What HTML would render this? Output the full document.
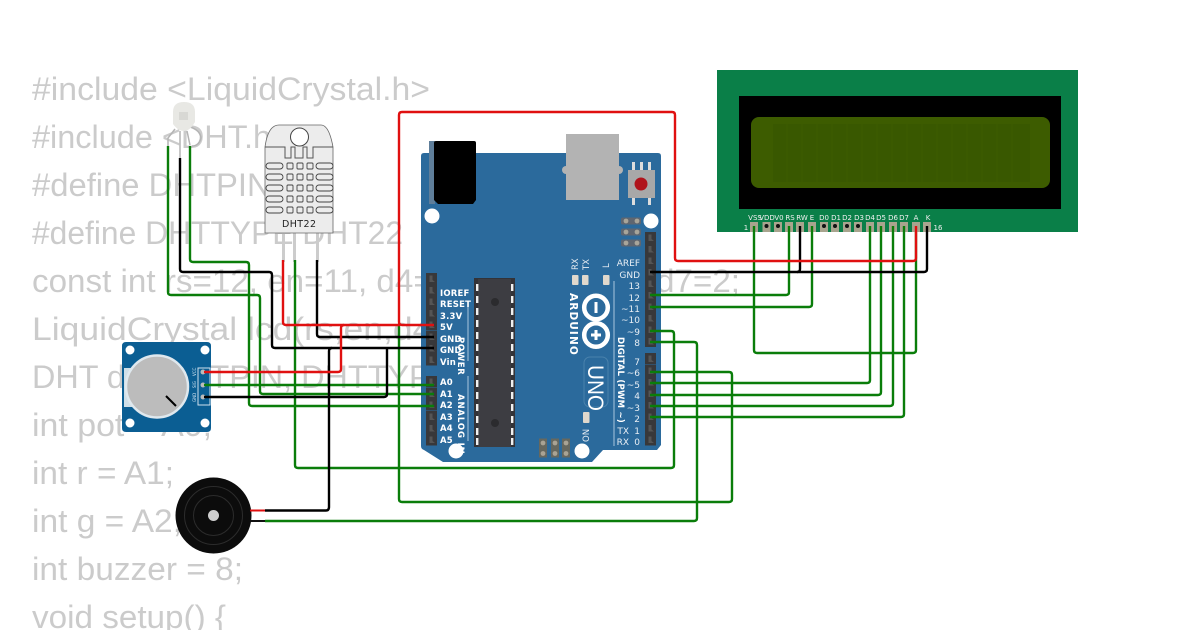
<!DOCTYPE html>
<html><head><meta charset="utf-8"><style>
html,body{margin:0;padding:0;background:#fff;width:1200px;height:630px;overflow:hidden}
svg{display:block}
.c{font:32px "Liberation Sans",sans-serif;fill:#cbcbcb}
.l{font:bold 8.500px "DejaVu Sans",sans-serif;fill:#fff;letter-spacing:.2px}
.r{font:9px "DejaVu Sans",sans-serif;fill:#e8eef4;text-anchor:end}
.p{font:7px "DejaVu Sans",sans-serif;fill:#f0f0f0;text-anchor:middle}
.w{fill:none;stroke-width:2.4;stroke-linejoin:round}
</style></head><body>
<svg width="1200" height="630" viewBox="0 0 1200 630" xmlns="http://www.w3.org/2000/svg">
<defs>
<g id="pin"><rect width="11" height="11.5" fill="#38383a"/><path d="M3.500 2.500V9H9L6.500 7V2.500z" fill="#555"/></g>
</defs>
<!-- code -->
<g class="c">
<text x="32" y="100" textLength="398" lengthAdjust="spacingAndGlyphs">#include &lt;LiquidCrystal.h&gt;</text>
<text x="32" y="148" textLength="258" lengthAdjust="spacingAndGlyphs">#include &lt;DHT.h&gt;</text>
<text x="32" y="196" textLength="266" lengthAdjust="spacingAndGlyphs">#define DHTPIN 2</text>
<text x="32" y="244" textLength="371" lengthAdjust="spacingAndGlyphs">#define DHTTYPE DHT22</text>
<text x="32" y="292" textLength="708" lengthAdjust="spacingAndGlyphs">const int rs=12, en=11, d4=5, d5=4, d6=3, d7=2;</text>
<text x="32" y="340" textLength="570" lengthAdjust="spacingAndGlyphs">LiquidCrystal lcd(rs,en,d4,d5,d6,d7);</text>
<text x="32" y="388" textLength="440" lengthAdjust="spacingAndGlyphs">DHT dht(DHTPIN, DHTTYPE);</text>
<text x="32" y="436" textLength="180" lengthAdjust="spacingAndGlyphs">int pot = A0;</text>
<text x="32" y="484" textLength="142" lengthAdjust="spacingAndGlyphs">int r = A1;</text>
<text x="32" y="532" textLength="150" lengthAdjust="spacingAndGlyphs">int g = A2;</text>
<text x="32" y="580" textLength="211" lengthAdjust="spacingAndGlyphs">int buzzer = 8;</text>
<text x="32" y="628" textLength="194" lengthAdjust="spacingAndGlyphs">void setup() {</text>
</g>
<!-- LCD -->
<rect x="717" y="70" width="361" height="162" fill="#0a7f48"/>
<rect x="739" y="96" width="322" height="113" fill="#000"/>
<rect x="751" y="117" width="299" height="71" rx="8" fill="#3d5c00"/>
<rect x="773" y="124" width="257" height="58" fill="#395800"/>
<path d="M787 124v58M802 124v58M817 124v58M832 124v58M847 124v58M862 124v58M877 124v58M892 124v58M907 124v58M922 124v58M937 124v58M952 124v58M967 124v58M982 124v58M997 124v58M1012 124v58" stroke="#3d5c00" stroke-width="1" fill="none"/>
<g fill="#a8a48e">
<rect x="750" y="222" width="8" height="10"/><rect x="762.500" y="222" width="8" height="10"/><rect x="774" y="222" width="8" height="10"/><rect x="785" y="222" width="8" height="10"/><rect x="796" y="222" width="8" height="10"/><rect x="808" y="222" width="8" height="10"/><rect x="820" y="222" width="8" height="10"/><rect x="831" y="222" width="8" height="10"/><rect x="843" y="222" width="8" height="10"/><rect x="854" y="222" width="8" height="10"/><rect x="866" y="222" width="8" height="10"/><rect x="877" y="222" width="8" height="10"/><rect x="889" y="222" width="8" height="10"/><rect x="900" y="222" width="8" height="10"/><rect x="912" y="222" width="8" height="10"/><rect x="923" y="222" width="8" height="10"/>
</g>
<g fill="#111">
<circle cx="766.500" cy="226" r="2"/><circle cx="778" cy="226" r="2"/><circle cx="824" cy="226" r="2"/><circle cx="835" cy="226" r="2"/><circle cx="847" cy="226" r="2"/><circle cx="858" cy="226" r="2"/>
</g>
<g class="p">
<text x="755" y="220">VSS</text><text x="767" y="220">VDD</text><text x="779" y="220">V0</text><text x="790" y="220">RS</text><text x="802" y="220">RW</text><text x="812" y="220">E</text><text x="824" y="220">D0</text><text x="836" y="220">D1</text><text x="847" y="220">D2</text><text x="859" y="220">D3</text><text x="870" y="220">D4</text><text x="881" y="220">D5</text><text x="893" y="220">D6</text><text x="904" y="220">D7</text><text x="916" y="220">A</text><text x="928" y="220">K</text>
<text x="746" y="230">1</text><text x="938" y="230">16</text>
</g>
<!-- Arduino -->
<path d="M424 153H658Q661 153 661 156V445L657 450H603L592 462H443L424 450Q421 449 421 446V156Q421 153 424 153Z" fill="#2b6a9c"/>
<rect x="429" y="141" width="6" height="63" fill="#5f7e9a"/>
<path d="M436 141H474Q476 141 476 143V200L473 204H438L434 200V143Q434 141 436 141Z" fill="#000"/>
<rect x="566" y="134" width="53" height="66" fill="#b3b3b3"/>
<circle cx="566" cy="170" r="4" fill="#b3b3b3"/><circle cx="619" cy="170" r="4" fill="#b3b3b3"/>
<rect x="632" y="162" width="3" height="8" fill="#ddd"/><rect x="640" y="162" width="3" height="8" fill="#ddd"/><rect x="648" y="162" width="3" height="8" fill="#ddd"/>
<rect x="632" y="198" width="3" height="7" fill="#ddd"/><rect x="648" y="198" width="3" height="7" fill="#ddd"/>
<rect x="628" y="170" width="27" height="28" fill="#a8a8a8"/>
<circle cx="641" cy="184" r="6.500" fill="#b0141c"/>
<g fill="#fff"><circle cx="432" cy="216" r="7.500"/><circle cx="651" cy="221" r="7.500"/><circle cx="456" cy="451" r="7.500"/><circle cx="582" cy="451" r="7.500"/></g>
<g fill="#5f6670"><rect x="621" y="217.500" width="20" height="7" rx="2"/><rect x="621" y="228.500" width="20" height="7" rx="2"/><rect x="621" y="239.500" width="20" height="7" rx="2"/></g>
<g fill="#a8a59a"><circle cx="626" cy="221" r="2.400"/><circle cx="637" cy="221" r="2.400"/><circle cx="626" cy="232" r="2.400"/><circle cx="637" cy="232" r="2.400"/><circle cx="626" cy="243" r="2.400"/><circle cx="637" cy="243" r="2.400"/></g>
<g fill="#66685f"><rect x="539" y="438.500" width="8" height="19"/><rect x="551" y="438.500" width="8" height="19"/><rect x="562" y="438.500" width="8" height="19"/></g>
<g fill="#a9a394"><circle cx="543" cy="443" r="2.400"/><circle cx="555" cy="443" r="2.400"/><circle cx="566" cy="443" r="2.400"/><circle cx="543" cy="453.500" r="2.400"/><circle cx="555" cy="453.500" r="2.400"/><circle cx="566" cy="453.500" r="2.400"/></g>
<!-- chip -->
<rect x="474" y="278" width="41" height="169" fill="#333338"/>
<rect x="478" y="279" width="33" height="168" fill="#3d3d42"/>
<circle cx="495" cy="302" r="4" fill="#2b2b2e"/><circle cx="495" cy="423" r="4" fill="#2b2b2e"/>
<g fill="#f0f0f0">
<rect x="476" y="284" width="2.400" height="7"/><rect x="476" y="296" width="2.400" height="7"/><rect x="476" y="308" width="2.400" height="7"/><rect x="476" y="320" width="2.400" height="7"/><rect x="476" y="332" width="2.400" height="7"/><rect x="476" y="344" width="2.400" height="7"/><rect x="476" y="356" width="2.400" height="7"/><rect x="476" y="368" width="2.400" height="7"/><rect x="476" y="380" width="2.400" height="7"/><rect x="476" y="392" width="2.400" height="7"/><rect x="476" y="404" width="2.400" height="7"/><rect x="476" y="416" width="2.400" height="7"/><rect x="476" y="428" width="2.400" height="7"/><rect x="476" y="438" width="2.400" height="7"/>
<rect x="511" y="284" width="2.400" height="7"/><rect x="511" y="296" width="2.400" height="7"/><rect x="511" y="308" width="2.400" height="7"/><rect x="511" y="320" width="2.400" height="7"/><rect x="511" y="332" width="2.400" height="7"/><rect x="511" y="344" width="2.400" height="7"/><rect x="511" y="356" width="2.400" height="7"/><rect x="511" y="368" width="2.400" height="7"/><rect x="511" y="380" width="2.400" height="7"/><rect x="511" y="392" width="2.400" height="7"/><rect x="511" y="404" width="2.400" height="7"/><rect x="511" y="416" width="2.400" height="7"/><rect x="511" y="428" width="2.400" height="7"/><rect x="511" y="438" width="2.400" height="7"/>
</g>
<!-- headers -->
<g>
<use href="#pin" x="426" y="273"/><use href="#pin" x="426" y="284.500"/><use href="#pin" x="426" y="296"/><use href="#pin" x="426" y="307.500"/><use href="#pin" x="426" y="319"/><use href="#pin" x="426" y="331"/><use href="#pin" x="426" y="342.500"/><use href="#pin" x="426" y="354"/>
<use href="#pin" x="426" y="376"/><use href="#pin" x="426" y="388"/><use href="#pin" x="426" y="399"/><use href="#pin" x="426" y="411"/><use href="#pin" x="426" y="422.500"/><use href="#pin" x="426" y="434"/>
<use href="#pin" x="645" y="232"/><use href="#pin" x="645" y="243.500"/><use href="#pin" x="645" y="255"/><use href="#pin" x="645" y="266.500"/><use href="#pin" x="645" y="278"/><use href="#pin" x="645" y="289.500"/><use href="#pin" x="645" y="301"/><use href="#pin" x="645" y="312.500"/><use href="#pin" x="645" y="324"/><use href="#pin" x="645" y="335.500"/>
<use href="#pin" x="645" y="353"/><use href="#pin" x="645" y="365"/><use href="#pin" x="645" y="376.500"/><use href="#pin" x="645" y="388"/><use href="#pin" x="645" y="399.500"/><use href="#pin" x="645" y="411"/><use href="#pin" x="645" y="422.500"/><use href="#pin" x="645" y="434"/>
</g>
<!-- left labels -->
<g class="l">
<text x="440" y="296">IOREF</text><text x="440" y="307">RESET</text><text x="440" y="319">3.3V</text><text x="440" y="330">5V</text><text x="440" y="342">GND</text><text x="440" y="353">GND</text><text x="440" y="365">Vin</text>
<text x="440" y="385">A0</text><text x="440" y="397">A1</text><text x="440" y="408">A2</text><text x="440" y="420">A3</text><text x="440" y="431">A4</text><text x="440" y="443">A5</text>
<text transform="translate(458,337) rotate(90)" textLength="38">POWER</text>
<text transform="translate(458,394) rotate(90)" textLength="60">ANALOG IN</text>
<text transform="translate(570,293) rotate(90)" style="font-size:10.500px" textLength="62">ARDUINO</text>
<text transform="translate(618,337) rotate(90)" style="font-size:8.500px" textLength="86">DIGITAL (PWM ~)</text>
</g>
<path d="M468 307V361M468 376V441" stroke="#a9c6de" stroke-width="1" fill="none"/>
<path d="M614 281V446" stroke="#a9c6de" stroke-width="1" fill="none"/>
<g class="r">
<text x="640" y="266">AREF</text><text x="640" y="278">GND</text><text x="640" y="289">13</text><text x="640" y="301">12</text><text x="640" y="312">~11</text><text x="640" y="323">~10</text><text x="640" y="335">~9</text><text x="640" y="346">8</text>
<text x="640" y="365">7</text><text x="640" y="376">~6</text><text x="640" y="388">~5</text><text x="640" y="399">4</text><text x="640" y="411">~3</text><text x="640" y="422">2</text><text x="640" y="434">1</text><text x="640" y="445">0</text>
<text x="629" y="434">TX</text><text x="629" y="445">RX</text>
</g>
<g style="font:8.500px 'DejaVu Sans',sans-serif;fill:#e8eef4">
<text transform="translate(578,270) rotate(-90)">RX</text>
<text transform="translate(589,270) rotate(-90)">TX</text>
<text transform="translate(609,268) rotate(-90)">L</text>
<text transform="translate(589,442) rotate(-90)">ON</text>
</g>
<g fill="#e0d8cc"><rect x="572" y="275" width="6.500" height="10" rx="1"/><rect x="582" y="275" width="6.500" height="10" rx="1"/><rect x="603" y="275" width="6.500" height="10" rx="1"/><rect x="583" y="412" width="6.500" height="11" rx="1"/></g>
<!-- logo -->
<g fill="none" stroke="#fff" stroke-width="4.500"><circle cx="596" cy="307.500" r="11.800"/><circle cx="596" cy="335" r="11.800"/></g>
<path d="M596 302v11M591 335h10M596 330v10" stroke="#fff" stroke-width="3" fill="none"/>
<rect x="584" y="357" width="24" height="50" rx="6" fill="none" stroke="#4a82ac" stroke-width="1"/>
<text transform="translate(588,365) rotate(90)" style="font:22px 'Liberation Sans',sans-serif;fill:#fff" textLength="46" lengthAdjust="spacingAndGlyphs">UNO</text>
<!-- DHT22 -->
<rect x="282" y="232" width="3" height="30" fill="#ccc"/><rect x="293" y="232" width="3" height="30" fill="#ccc"/><rect x="316" y="232" width="3" height="30" fill="#ccc"/>
<path d="M265 147Q268 125 279 125H321Q329 125 333 147V233H265Z" fill="#ececec" stroke="#666" stroke-width=".8"/>
<path d="M265 147H285V158H291V147H295V158H303V147H307V158H313V147H333" fill="none" stroke="#555" stroke-width="1"/>
<circle cx="299.500" cy="137" r="9" fill="#fff" stroke="#444" stroke-width="1"/>
<g fill="none" stroke="#444" stroke-width=".9">
<rect x="266" y="163" width="17" height="6" rx="3"/><rect x="266" y="174" width="17" height="6" rx="3"/><rect x="266" y="185" width="17" height="6" rx="3"/><rect x="266" y="196" width="17" height="6" rx="3"/><rect x="266" y="207" width="17" height="6" rx="3"/>
<rect x="316" y="163" width="17" height="6" rx="3"/><rect x="316" y="174" width="17" height="6" rx="3"/><rect x="316" y="185" width="17" height="6" rx="3"/><rect x="316" y="196" width="17" height="6" rx="3"/><rect x="316" y="207" width="17" height="6" rx="3"/>
<rect x="287" y="163" width="6" height="6" rx="1"/><rect x="297" y="163" width="6" height="6" rx="1"/><rect x="307" y="163" width="6" height="6" rx="1"/>
<rect x="287" y="174" width="6" height="6" rx="1"/><rect x="297" y="174" width="6" height="6" rx="1"/><rect x="307" y="174" width="6" height="6" rx="1"/>
<rect x="287" y="185" width="6" height="6" rx="1"/><rect x="297" y="185" width="6" height="6" rx="1"/><rect x="307" y="185" width="6" height="6" rx="1"/>
<rect x="287" y="196" width="6" height="6" rx="1"/><rect x="297" y="196" width="6" height="6" rx="1"/><rect x="307" y="196" width="6" height="6" rx="1"/>
<rect x="287" y="207" width="6" height="6" rx="1"/><rect x="297" y="207" width="6" height="6" rx="1"/><rect x="307" y="207" width="6" height="6" rx="1"/>
</g>
<text x="299" y="227" text-anchor="middle" style="font:9.500px 'DejaVu Sans',sans-serif;fill:#222" textLength="34">DHT22</text>
<!-- LED -->
<path d="M175 129L168 138V146M180 131V158M187 131L190 145M190 127Q200 130 201 138Q199 146 192 146" fill="none" stroke="#b4b4b4" stroke-width="1.500"/>
<path d="M173 112Q173 102 184 102Q195 102 195 112V122Q190 131 184 131Q178 131 173 124Z" fill="#e8e8e4"/>
<rect x="179" y="112" width="9" height="8" fill="#d8d8d4"/>
<!-- Pot -->
<path d="M126 342H207Q211 342 211 346V428Q211 432 207 432H126Q122 432 122 428V346Q122 342 126 342Z" fill="#0b5e93"/>
<g fill="#fff"><circle cx="130" cy="350" r="4.500"/><circle cx="205" cy="350" r="4.500"/><circle cx="130" cy="423" r="4.500"/><circle cx="205" cy="423" r="4.500"/></g>
<rect x="124" y="368" width="10" height="39" fill="#cfdfe8"/>
<circle cx="157" cy="386.500" r="31" fill="#bcbcbc" stroke="#dfe8ee" stroke-width="2.500"/>
<path d="M166 396L176 406" stroke="#000" stroke-width="2"/>
<rect x="198" y="368" width="12" height="37" fill="none" stroke="#cfe0ee" stroke-width="1"/>
<circle cx="203" cy="372" r="2.500" fill="#bbb"/><circle cx="203" cy="385" r="2.500" fill="#bbb"/><circle cx="203" cy="397" r="2.500" fill="#bbb"/>
<g style="font:4px 'DejaVu Sans',sans-serif;fill:#d8e8f4"><text transform="translate(196,376) rotate(-90)">VCC</text><text transform="translate(196,388) rotate(-90)">SIG</text><text transform="translate(196,402) rotate(-90)">GND</text></g>
<!-- Buzzer -->
<circle cx="213.500" cy="515.500" r="38" fill="#0c0c0c"/>
<circle cx="213.500" cy="515.500" r="29" fill="none" stroke="#2c2c2c" stroke-width="1"/>
<circle cx="213.500" cy="515.500" r="20" fill="none" stroke="#2c2c2c" stroke-width="1"/>
<circle cx="213.500" cy="515.500" r="5.500" fill="#cfcfcf"/>
<path d="M250 510.500H265" stroke="#e01010" stroke-width="2"/>
<path d="M250 521H265" stroke="#111" stroke-width="2"/>
<!-- wires green -->
<g class="w" stroke="#0a7d0a">
<path d="M754 226V350Q754 353 757 353H913Q916 353 916 350V232"/>
<path d="M789 226V292Q789 295 786 295H650"/>
<path d="M812 226V304Q812 307 809 307H650"/>
<path d="M870 226V380Q870 383 867 383H650"/>
<path d="M881 226V392Q881 395 878 395H650"/>
<path d="M893 226V403Q893 406 890 406H650"/>
<path d="M904 226V414Q904 417 901 417H650"/>
<path d="M650 331H671Q674 331 674 334V465Q674 468 671 468H298Q295 468 295 465V260"/>
<path d="M650 342H694Q697 342 697 345V518Q697 521 694 521H265"/>
<path d="M650 372H729Q732 372 732 375V499Q732 502 729 502H402Q399 502 399 499V325"/>
<path d="M168 146V292Q168 295 171 295H257Q260 295 260 298V391Q260 394 263 394H434"/>
<path d="M190 146V259Q190 262 193 262H246Q249 262 249 265V403Q249 406 252 406H434"/>
<path d="M204 385H434"/>
</g>
<!-- wires black -->
<g class="w" stroke="#000">
<path d="M650 272H924Q927 272 927 269V226"/>
<path d="M797 272Q800 272 800 269V226"/>
<path d="M180 158V269Q180 272 183 272H269Q272 272 272 275V345Q272 348 275 348H434"/>
<path d="M317 260V334Q317 337 320 337H434"/>
<path d="M204 397H384Q387 397 387 394V348"/>
<path d="M265 510.500H326Q329 510.500 329 507V351Q329 348 332 348"/>
</g>
<!-- wires red -->
<g class="w" stroke="#e01010">
<path d="M916 226V258Q916 261 913 261H678Q675 261 675 258V115Q675 112 672 112H402Q399 112 399 115V322Q399 325 402 325H434"/>
<path d="M283 260V322Q283 325 286 325H400"/>
<path d="M204 372H338Q341 372 341 369V328Q341 325 344 325"/>
</g>
</svg>
</body></html>
